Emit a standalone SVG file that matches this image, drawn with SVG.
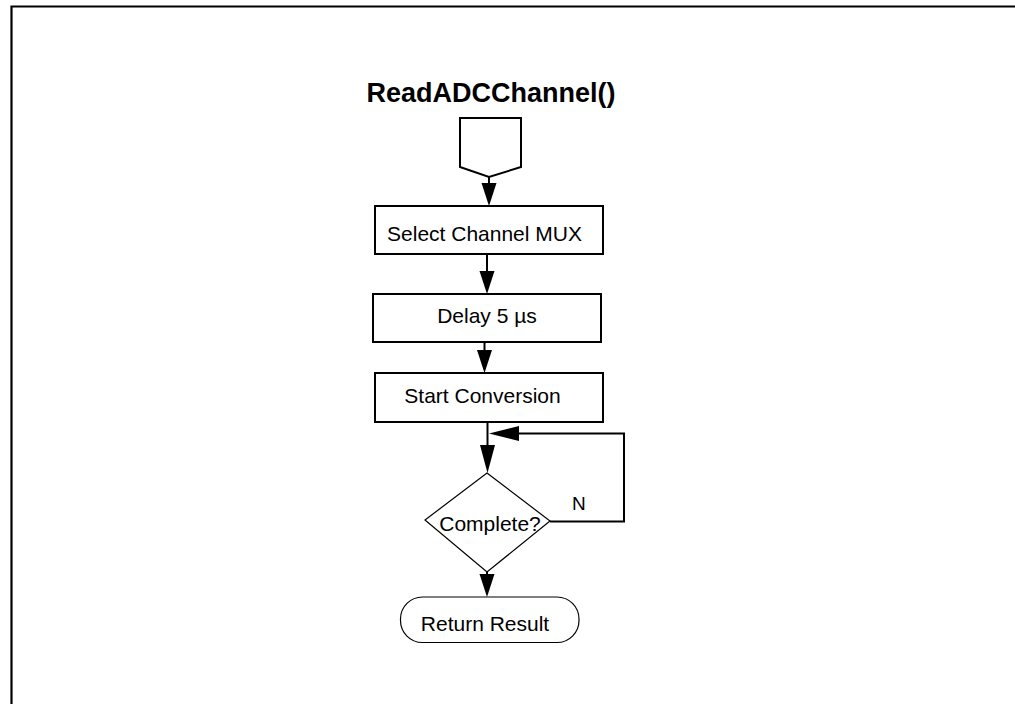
<svg xmlns="http://www.w3.org/2000/svg" width="1015" height="704" viewBox="0 0 1015 704">
<style>
text{font-family:"Liberation Sans",Arial,sans-serif;fill:#000}
.lbl{font-size:21px;text-anchor:middle}
.box{fill:#fff;stroke:#000;stroke-width:2}
.thin{fill:#fff;stroke:#000;stroke-width:1.2}
.ln{fill:none;stroke:#000;stroke-width:2}
.ah{fill:#000;stroke:none}
</style>
<rect width="1015" height="704" fill="#fff"/>
<path d="M11.5,704 V6.5 H1015" fill="none" stroke="#000" stroke-width="2.2"/>
<text x="491" y="102" font-size="27" font-weight="bold" text-anchor="middle">ReadADCChannel()</text>
<g id="start"><path class="box" d="M460,118 H521 V167 L489,177 L460,167 Z"/></g>
<g id="n1"><rect class="box" x="375" y="206" width="228" height="48"/><text class="lbl" x="484.5" y="241">Select Channel MUX</text></g>
<g id="n2"><rect class="box" x="373" y="294" width="228" height="48"/><text class="lbl" x="487" y="323">Delay 5 µs</text></g>
<g id="n3"><rect class="box" x="375" y="373" width="228" height="49"/><text class="lbl" x="482.5" y="403">Start Conversion</text></g>
<g id="n4"><path class="thin" d="M487,473 L550,521 L487,572 L425,520 Z"/><text class="lbl" x="490" y="531" font-size="22">Complete?</text></g>
<g id="n5"><rect class="thin" x="400.5" y="597" width="178.5" height="45.5" rx="22" ry="22"/><text class="lbl" x="485" y="631" font-size="18.5">Return Result</text></g>
<g id="connectors">
<path class="ln" d="M489,177 V184"/><path class="ah" d="M481.5,183 H496.5 L489,206 Z"/>
<path class="ln" d="M487,254 V272"/><path class="ah" d="M479.5,271 H494.5 L487,294 Z"/>
<path class="ln" d="M484.5,342 V351"/><path class="ah" d="M477,350 H492 L484.5,373 Z"/>
<path class="ln" d="M487.5,422 V447"/><path class="ah" d="M480,445 H495 L487.5,473 Z"/>
<path class="ln" d="M550,521.5 H624 V433.5 H515"/><path class="ah" d="M519,426 V441 L489,433.5 Z"/>
<text x="572" y="510" font-size="19">N</text>
<path class="ln" d="M487,572 V575"/><path class="ah" d="M479.5,574 H494.5 L487,597 Z"/>
</g>
</svg>
